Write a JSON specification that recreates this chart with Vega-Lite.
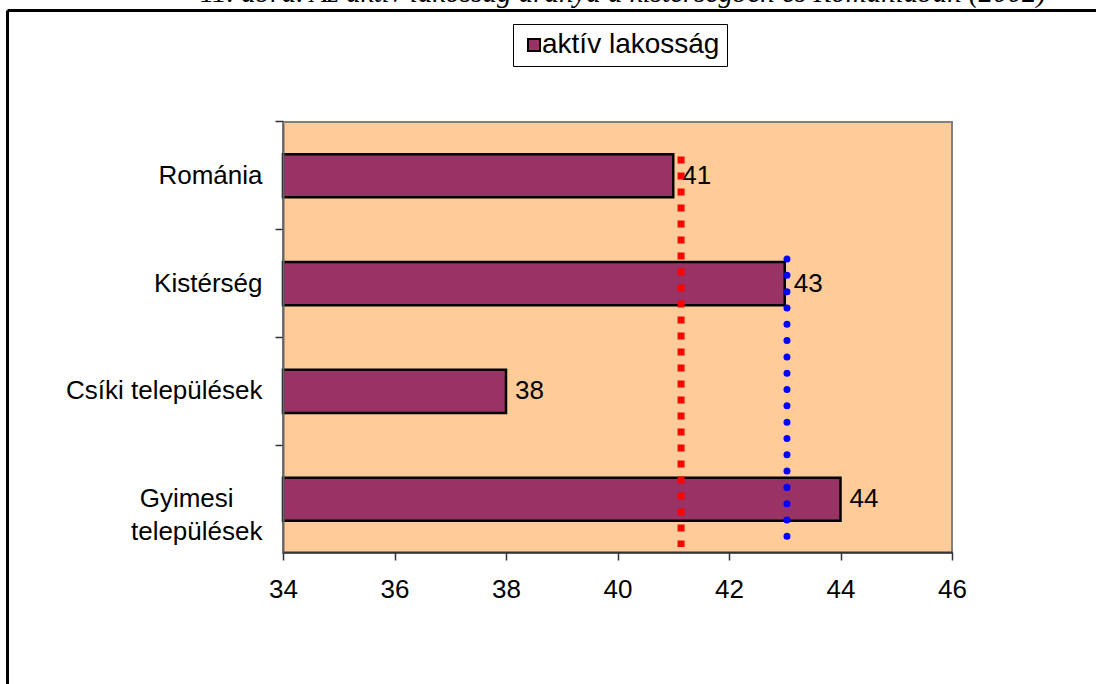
{
  "$schema": "https://vega.github.io/schema/vega-lite/v6.json",
  "width": 1089,
  "height": 674,
  "autosize": {"type": "none"},
  "padding": {"left": 7, "top": 10, "right": 0, "bottom": 0},
  "background": "white",
  "view": {"stroke": null, "fill": "white"},
  "title": {
    "text": "11. ábra. Az aktív lakosság aránya a kistérségben és Romániában (2002)",
    "anchor": "start",
    "frame": "group",
    "dx": 193,
    "dy": 21,
    "offset": 0,
    "baseline": "alphabetic",
    "font": "Liberation Serif",
    "fontStyle": "italic",
    "fontWeight": "normal",
    "fontSize": 29,
    "color": "#000"
  },
  "config": {
    "font": "Liberation Sans",
    "axis": {"labelFont": "Liberation Sans", "labelFontSize": 26, "labelColor": "#000", "grid": false, "title": null, "labelOverlap": false, "labelFlush": false}
  },
  "data": {
    "values": [
      {"terulet": "Románia", "arany": 41},
      {"terulet": "Kistérség", "arany": 43},
      {"terulet": "Csíki települések", "arany": 38},
      {"terulet": "Gyimesi települések", "arany": 44}
    ]
  },
  "resolve": {"scale": {"x": "independent", "y": "independent"}, "axis": {"x": "independent", "y": "independent"}},
  "layer": [
    {
      "layer": [
        {
          "data": {"values": [{}]},
          "mark": {"type": "rect", "fill": "#FFCC99", "stroke": "#808080", "strokeWidth": 2},
          "encoding": {
            "x": {"datum": 34, "type": "quantitative"},
            "x2": {"datum": 46},
            "y": {"datum": "Románia", "type": "nominal", "bandPosition": -0.75},
            "y2": {"datum": "Gyimesi települések", "bandPosition": 1.75}
          }
        },
        {
          "mark": {"type": "bar", "stroke": "#000", "strokeWidth": 2.5},
          "encoding": {
            "y": {
              "field": "terulet",
              "type": "nominal",
              "scale": {
                "domain": ["Románia", "Kistérség", "Csíki települések", "Gyimesi települések"],
                "range": [113, 542],
                "paddingInner": 0.6,
                "paddingOuter": 0.29
              },
              "axis": {
                "orient": "left",
                "offset": -276,
                "bandPosition": -0.75,
                "tickSize": 8,
                "tickColor": "#333",
                "tickWidth": 1.5,
                "domainColor": "#666",
                "domainWidth": 2,
                "labelPadding": 13,
                "labelLimit": 400,
                "labelLineHeight": 33,
                "labelExpr": "datum.value == 'Gyimesi települések' ? ['Gyimesi\\u00a0\\u00a0\\u00a0\\u00a0\\u200b', 'települések'] : datum.value",
                "zindex": 1
              }
            },
            "x": {
              "field": "arany",
              "type": "quantitative",
              "scale": {"domain": [34, 46], "range": [276, 945], "nice": false, "zero": false},
              "axis": {
                "orient": "bottom",
                "offset": -132,
                "values": [34, 36, 38, 40, 42, 44, 46],
                "format": "d",
                "tickSize": 8,
                "tickColor": "#333",
                "tickWidth": 1.5,
                "domainColor": "#333",
                "domainWidth": 2,
                "labelPadding": 16,
                "zindex": 1
              }
            },
            "x2": {"datum": 34},
            "color": {
              "datum": "aktív lakosság",
              "type": "nominal",
              "scale": {"range": ["#993366"]},
              "legend": {
                "orient": "none",
                "legendX": 506,
                "legendY": 14,
                "title": null,
                "symbolType": "square",
                "symbolSize": 144,
                "symbolStrokeColor": "#000",
                "symbolStrokeWidth": 2,
                "labelFontSize": 28,
                "labelFont": "Liberation Sans",
                "labelColor": "#000",
                "labelLimit": 400,
                "labelOffset": -6,
                "padding": 7,
                "strokeColor": "#000",
                "fillColor": "white"
              }
            }
          }
        },
        {
          "mark": {"type": "text", "align": "left", "baseline": "middle", "dx": 9, "fontSize": 26, "font": "Liberation Sans", "color": "#000"},
          "encoding": {
            "y": {"field": "terulet", "type": "nominal"},
            "x": {"field": "arany", "type": "quantitative"},
            "text": {"field": "arany", "type": "quantitative"}
          }
        },
        {
          "data": {"values": [{"atlag": 41.14}]},
          "mark": {"type": "rule", "color": "#FF0000", "strokeWidth": 7, "strokeDash": [7, 9], "strokeCap": "butt"},
          "encoding": {
            "x": {"field": "atlag", "type": "quantitative"},
            "y": {"datum": "Románia", "type": "nominal", "bandPosition": 0.05},
            "y2": {"datum": "Gyimesi települések", "bandPosition": 1.61}
          }
        },
        {
          "data": {"values": [{"atlag": 43.04}]},
          "mark": {"type": "rule", "color": "#0000FF", "strokeWidth": 7, "strokeDash": [0.01, 16.3], "strokeCap": "round"},
          "encoding": {
            "x": {"field": "atlag", "type": "quantitative"},
            "y": {"datum": "Kistérség", "type": "nominal", "bandPosition": -0.07},
            "y2": {"datum": "Gyimesi települések", "bandPosition": 1.37}
          }
        }
      ]
    },
    {
      "data": {"values": [{}]},
      "mark": {"type": "point", "opacity": 0},
      "encoding": {
        "x": {
          "datum": 0,
          "type": "quantitative",
          "scale": {"domain": [0, 1], "nice": false, "zero": false},
          "axis": {"orient": "top", "offset": 0, "domain": true, "domainColor": "#000", "domainWidth": 3, "ticks": false, "labels": false, "grid": false, "title": null}
        },
        "y": {
          "datum": 0,
          "type": "quantitative",
          "scale": {"domain": [0, 1], "nice": false, "zero": false},
          "axis": {"orient": "left", "offset": 0, "domain": true, "domainColor": "#000", "domainWidth": 3, "ticks": false, "labels": false, "grid": false, "title": null}
        }
      }
    }
  ]
}
